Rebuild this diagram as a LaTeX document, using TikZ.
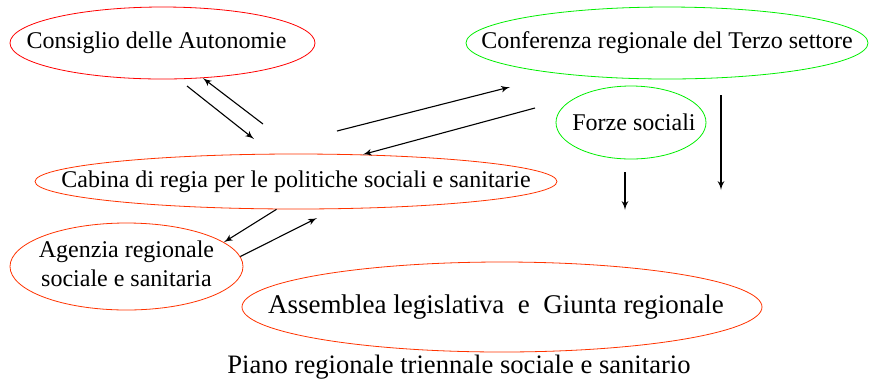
\documentclass[tikz,border=0pt]{standalone}
\usepackage{fontspec}
\setmainfont{Liberation Serif}
\usepackage{tikz}
\usetikzlibrary{shapes,arrows,positioning}

\definecolor{rosso}{HTML}{FF0000}
\definecolor{arancio}{HTML}{FF3300}
\definecolor{verde}{HTML}{00EE00}

\begin{document}
\begin{tikzpicture}[x=0.5pt, y=-0.5pt,
        ente/.style={ellipse, draw, inner sep=0pt, font=\fontsize{12}{14.5}\selectfont},
        line/.style={draw, -latex', line width=0.55pt}
    ]
        \useasboundingbox (0,0) rectangle (869,382);
        % Enti (ellissi)
        \node[ente, rosso, text=black, minimum width=152.5pt, minimum height=36pt] (consiglio) at (162.5,43)
            {\makebox[0pt]{\hspace{-6pt}Consiglio delle Autonomie}};
        \node[ente, verde, text=black, minimum width=201pt, minimum height=36pt] (conferenza) at (667,43)
            {\makebox[0pt]{Conferenza regionale del Terzo settore}};
        \node[ente, verde, text=black, minimum width=75pt, minimum height=36.5pt] (forze) at (631,122.5)
            {\makebox[0pt]{\hspace{3pt}Forze sociali}};
        \node[ente, arancio, text=black, minimum width=261pt, minimum height=27.5pt] (cabina) at (296,181.5)
            {\makebox[0pt]{Cabina di regia per le politiche sociali e sanitarie}};
        \node[ente, arancio, text=black, minimum width=116.5pt, minimum height=43.5pt] (agenzia) at (126.5,266.5)
            {\makebox[0pt]{\begin{tabular}{@{}c@{}}Agenzia regionale\\sociale e sanitaria\end{tabular}}};
        \node[ente, arancio, text=black, minimum width=260pt, minimum height=45pt,
            font=\fontsize{13.5}{16}\selectfont] (assemblea) at (502,307)
            {\makebox[0pt]{\hspace{-6pt}Assemblea legislativa \ e \ Giunta regionale}};
        % Titolo in basso
        \node[font=\fontsize{13.3}{16}\selectfont] (piano) at (459,367)
            {Piano regionale triennale sociale e sanitario};
        % Estremi liberi delle frecce
        \coordinate (c1) at (187,86);
        \coordinate (c2) at (254,139);
        \coordinate (c3) at (263,124);
        \coordinate (c4) at (337,131);
        \coordinate (c5) at (510,87);
        \coordinate (c6) at (535,108);
        \coordinate (c7) at (317,218);
        \coordinate (f1) at (625,172);
        \coordinate (f2) at (625,210);
        \coordinate (t1) at (721,95);
        \coordinate (t2) at (721,190);
        % Connessioni
        \path[line] (c1) -- (c2);
        \path[line] (c3) -- (consiglio.-41.5);
        \path[line] (c4) -- (c5);
        \path[line] (c6) -- (cabina.22.5);
        \path[line] (cabina.235.3) -- (agenzia.14.5);
        \path[line] (agenzia.5.2) -- (c7);
        \path[line] (f1) -- (f2);
        \path[line] (t1) -- (t2);
\end{tikzpicture}
\end{document}
